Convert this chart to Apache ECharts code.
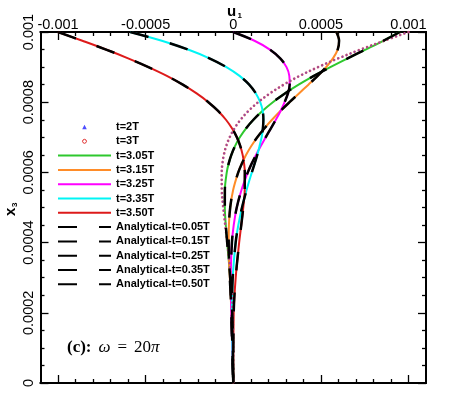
<!DOCTYPE html>
<html><head><meta charset="utf-8">
<script src="https://cdn.jsdelivr.net/npm/echarts@6/dist/echarts.min.js"></script>
<style>html,body{margin:0;padding:0;background:#fff}#c{width:449px;height:399px}</style>
</head><body><div id="c"></div>
<script>
// heights x3 (shared by every profile)
const x3 = [0.001, 0.000975, 0.00095, 0.000925, 0.0009, 0.000875, 0.00085, 0.000825, 0.0008, 0.000775, 0.00075, 0.000725, 0.0007, 0.000675, 0.00065, 0.000625, 0.0006, 0.00055, 0.0005, 0.00045, 0.0004, 0.0003, 0.0002, 0];
// u1 profiles
const u2T  = [1e-3, 8.61e-4, 7.26e-4, 6.0e-4, 4.84e-4, 3.79e-4, 2.88e-4, 2.09e-4, 1.42e-4, 8.65e-5, 4.16e-5, 6.4e-6, -2.06e-5, -4.02e-5, -5.36e-5, -6.19e-5, -6.6e-5, -6.54e-5, -5.72e-5, -4.57e-5, -3.37e-5, -1.4e-5, -2.6e-6, 0];
const u3T  = [1e-3, 8.61e-4, 7.26e-4, 6.0e-4, 4.84e-4, 3.79e-4, 2.88e-4, 2.09e-4, 1.42e-4, 8.65e-5, 4.16e-5, 6.4e-6, -2.06e-5, -4.02e-5, -5.36e-5, -6.19e-5, -6.6e-5, -6.54e-5, -5.72e-5, -4.57e-5, -3.37e-5, -1.4e-5, -2.6e-6, 0];
const u305 = [9.51e-4, 8.56e-4, 7.55e-4, 6.53e-4, 5.54e-4, 4.6e-4, 3.73e-4, 2.95e-4, 2.26e-4, 1.66e-4, 1.15e-4, 7.2e-5, 3.75e-5, 1.0e-5, -1.08e-5, -2.63e-5, -3.71e-5, -4.78e-5, -4.81e-5, -4.26e-5, -3.45e-5, -1.76e-5, -5.8e-6, 0];
const u315 = [5.88e-4, 6.04e-4, 5.96e-4, 5.69e-4, 5.3e-4, 4.82e-4, 4.29e-4, 3.75e-4, 3.21e-4, 2.69e-4, 2.21e-4, 1.77e-4, 1.37e-4, 1.03e-4, 7.36e-5, 4.89e-5, 2.85e-5, -7e-7, -1.73e-5, -2.47e-5, -2.6e-5, -1.96e-5, -1.04e-5, 0];
const u325 = [0, 1.21e-4, 2.09e-4, 2.68e-4, 3.04e-4, 3.2e-4, 3.22e-4, 3.12e-4, 2.93e-4, 2.7e-4, 2.43e-4, 2.14e-4, 1.85e-4, 1.57e-4, 1.3e-4, 1.05e-4, 8.3e-5, 4.7e-5, 2.0e-5, 2.7e-6, -7.6e-6, -1.4e-5, -1.1e-5, 0];
const u335 = [-5.88e-4, -4.08e-4, -2.58e-4, -1.36e-4, -3.9e-5, 3.6e-5, 9.1e-5, 1.29e-4, 1.54e-4, 1.68e-4, 1.72e-4, 1.69e-4, 1.62e-4, 1.5e-4, 1.37e-4, 1.22e-4, 1.06e-4, 7.6e-5, 5.0e-5, 2.9e-5, 1.37e-5, -3.0e-6, -7.4e-6, 0];
const u350 = [-1e-3, -8.61e-4, -7.26e-4, -6.0e-4, -4.84e-4, -3.79e-4, -2.88e-4, -2.09e-4, -1.42e-4, -8.65e-5, -4.16e-5, -6.4e-6, 2.06e-5, 4.02e-5, 5.36e-5, 6.19e-5, 6.6e-5, 6.54e-5, 5.72e-5, 4.57e-5, 3.37e-5, 1.4e-5, 2.6e-6, 0];
// analytical profiles (coincide with the numerical ones in the picture)
const a005 = u305, a015 = u315, a025 = u325, a035 = u335, a050 = u350;
// axis ticks
const xMajor = [-0.001, -0.0005, 0, 0.0005, 0.001];
const xMinor = [-0.0009, -0.0008, -0.0007, -0.0006, -0.0004, -0.0003, -0.0002, -0.0001, 0.0001, 0.0002, 0.0003, 0.0004, 0.0006, 0.0007, 0.0008, 0.0009];

const pairs = u => u.map((v, i) => [v, x3[i]]);
const FONT = 'Liberation Sans';
const chart = echarts.init(document.getElementById('c'), null, {renderer: 'canvas'});

function xAx(pos, ticks, len, labels) {
  return {
    type: 'value', position: pos, min: -0.0011, max: 0.0011,
    axisLine: {show: true, onZero: false, lineStyle: {color: '#000', width: 2}},
    axisTick: {show: true, inside: true, length: len, customValues: ticks, lineStyle: {color: '#000', width: 1.3}},
    axisLabel: {show: labels, customValues: ticks, margin: 0, color: '#000', fontSize: 14.5, fontFamily: FONT},
    splitLine: {show: false}
  };
}
function yAx(pos, labels) {
  return {
    type: 'value', position: pos, min: 0, max: 0.001, interval: 0.0002,
    axisLine: {show: true, onZero: false, lineStyle: {color: '#000', width: 2}},
    axisTick: {show: true, inside: true, length: 8, lineStyle: {color: '#000', width: 1.3}},
    minorTick: {show: true, splitNumber: 4, length: 4, lineStyle: {color: '#000', width: 1.3}},
    axisLabel: {show: labels, rotate: 90, margin: 4, color: '#000', fontSize: 14.5, fontFamily: FONT},
    splitLine: {show: false}, minorSplitLine: {show: false}
  };
}
function lineS(name, u, color, width, dash, z) {
  return {
    name, type: 'line', data: pairs(u), smooth: 0.35, symbol: 'none', showSymbol: false,
    xAxisIndex: 0, yAxisIndex: 0, z,
    itemStyle: {color},
    lineStyle: {color, width, type: dash || 'solid', cap: 'butt'},
    emphasis: {disabled: true}
  };
}
function dotS(name, u, color, width, z) {
  return {
    name, type: 'line', data: pairs(u), smooth: 0.35, symbol: 'none', showSymbol: false,
    xAxisIndex: 0, yAxisIndex: 0, z,
    itemStyle: {color},
    lineStyle: {color, width, type: [0.01, 4.4], cap: 'round'},
    emphasis: {disabled: true}
  };
}
const DASH = [19, 22];
const triIcon = 'path://M0,0L0.01,0M53,8L52.99,8M26.5,1.8L28.8,6.2L24.2,6.2Z';
const cirIcon = 'path://M0,0L0.01,0M53,8L52.99,8M26.5,2L27.9,2.6L28.5,4L27.9,5.4L26.5,6L25.1,5.4L24.5,4L25.1,2.6Z';

const option = {
  animation: false,
  backgroundColor: '#fff',
  grid: {left: 40.5, right: 23, top: 32, bottom: 16, containLabel: false, outerBoundsMode: 'none'},
  xAxis: [xAx('top', xMajor, 8, true), xAx('top', xMinor, 4, false), xAx('bottom', xMajor, 8, false), xAx('bottom', xMinor, 4, false)],
  yAxis: [yAx('left', true), yAx('right', false)],
  legend: {
    orient: 'vertical', left: 52, top: 116.5, itemWidth: 53, itemHeight: 8, itemGap: 3.3,
    selectedMode: false,
    itemStyle: {opacity: 0, borderWidth: 0},
    lineStyle: {opacity: 1},
    textStyle: {fontSize: 11, fontWeight: 'bold', fontFamily: FONT, color: '#000', lineHeight: 11},
    data: [
      {name: 't=2T', icon: triIcon, itemStyle: {color: '#4d4dff', opacity: 1}},
      {name: 't=3T', icon: cirIcon, itemStyle: {color: 'transparent', borderColor: '#e02828', borderWidth: 1, opacity: 1}},
      't=3.05T', 't=3.15T', 't=3.25T', 't=3.35T', 't=3.50T',
      'Analytical-t=0.05T', 'Analytical-t=0.15T', 'Analytical-t=0.25T', 'Analytical-t=0.35T', 'Analytical-t=0.50T'
    ]
  },
  series: [
    lineS('t=3.05T', u305, '#2ec82e', 2, null, 2),
    lineS('t=3.15T', u315, '#ff8c28', 2, null, 2),
    lineS('t=3.25T', u325, '#ff00ff', 2, null, 2),
    lineS('t=3.35T', u335, '#00f5f5', 2, null, 2),
    lineS('t=3.50T', u350, '#dd1a1a', 2, null, 2),
    dotS('t=3T', u3T, '#c84a6a', 2.7, 3),
    dotS('t=2T', u2T, '#6a50d0', 1.2, 4),
    lineS('Analytical-t=0.05T', a005, '#000', 2.5, DASH, 5),
    lineS('Analytical-t=0.15T', a015, '#000', 2.5, DASH, 5),
    lineS('Analytical-t=0.25T', a025, '#000', 2.5, DASH, 5),
    lineS('Analytical-t=0.35T', a035, '#000', 2.5, DASH, 5),
    lineS('Analytical-t=0.50T', a050, '#000', 2.5, DASH, 5)
  ],
  graphic: [
    {type: 'text', left: 227, top: 4, style: {text: 'u', font: 'bold 15px "Liberation Sans"', fill: '#000'}},
    {type: 'text', left: 237.5, top: 12, style: {text: '1', font: 'bold 8px "Liberation Sans"', fill: '#000'}},
    {type: 'text', x: 3, y: 216, rotation: Math.PI / 2, style: {text: 'x', font: 'bold 15px "Liberation Sans"', fill: '#000'}},
    {type: 'text', x: 11, y: 207, rotation: Math.PI / 2, style: {text: '3', font: 'bold 8px "Liberation Sans"', fill: '#000'}},
    {type: 'text', left: 67, top: 339, style: {
      text: '{b|(c):}{s| }{i|ω}{s| }{r|=}{s| }{r|20}{i|π}',
      rich: {
        b: {font: 'bold 17px "Liberation Serif"', fill: '#000'},
        i: {font: 'italic 17px "Liberation Serif"', fill: '#000'},
        r: {font: '17px "Liberation Serif"', fill: '#000'},
        s: {font: '17px "Liberation Serif"', width: 7}
      }
    }}
  ]
};
chart.setOption(option);
</script>
</body></html>
